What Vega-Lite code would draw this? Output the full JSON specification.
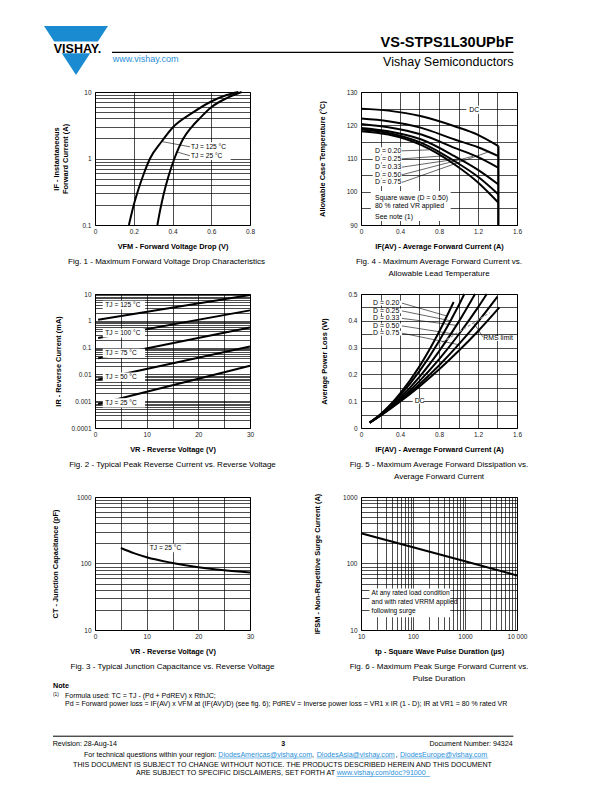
{
  "$schema": "https://vega.github.io/schema/vega-lite/v6.json",
  "padding": 0,
  "background": "white",
  "bounds": "flush",
  "columns": 4,
  "spacing": {"row": 69, "column": 0},
  "config": {
    "font": "Liberation Sans",
    "view": {"stroke": "black", "strokeWidth": 1},
    "axis": {"grid": true, "gridColor": "black", "gridOpacity": 1, "gridWidth": 0.7, "ticks": false, "domain": false, "labelFont": "Liberation Sans", "labelFontSize": 6.5, "labelColor": "#222222", "labelPadding": 3, "labelOverlap": false, "labelBound": false, "labelFlush": false, "titleFont": "Liberation Sans", "titleFontSize": 7.4, "titleFontWeight": "bold", "titleColor": "black", "titlePadding": 8},
    "axisY": {"labelPadding": 4},
    "title": {"orient": "bottom", "font": "Liberation Sans", "fontSize": 8, "fontWeight": "normal", "color": "black", "anchor": "middle", "frame": "group", "offset": 8, "lineHeight": 12},
    "text": {"font": "Liberation Sans", "fontSize": 6.5, "color": "black"}
  },
  "concat": [
    {
      "width": 95, "height": 23,
      "view": {"stroke": null},
      "encoding": {
        "x": {"field": "x", "type": "quantitative", "scale": {"domain": [0, 95], "nice": false, "zero": false}, "axis": null},
        "y": {"field": "y", "type": "quantitative", "scale": {"domain": [0, 23], "nice": false, "zero": false, "reverse": true}, "axis": null}
      },
      "layer": [
        {"data": {"values": [{"x": 76, "y": 50.5}]}, "mark": {"type": "point", "shape": "M-1,-0.766L1,-0.766L0,0.766Z", "size": 4096, "filled": true, "color": "#1b8bd1", "opacity": 1, "strokeWidth": 0}},
        {"data": {"values": [{"x": 38, "x2": 114, "y": 41.5, "y2": 53.3}]}, "mark": {"type": "rect", "fill": "white"}, "encoding": {"x2": {"field": "x2"}, "y2": {"field": "y2"}}},
        {"data": {"values": [{"x": 77.5, "y": 52.5, "t": "VISHAY."}]}, "mark": {"type": "text", "fontSize": 12.5, "fontWeight": "bold", "align": "center", "baseline": "alphabetic"}, "encoding": {"text": {"field": "t"}}},
        {"data": {"values": [{"x": 112, "x2": 513.5, "y": 52.3}]}, "mark": {"type": "rule", "color": "black", "strokeWidth": 1.2}, "encoding": {"x2": {"field": "x2"}}},
        {"data": {"values": [{"x": 513.5, "y": 46.5, "t": "VS-STPS1L30UPbF"}]}, "mark": {"type": "text", "fontSize": 14.5, "fontWeight": "bold", "align": "right", "baseline": "alphabetic"}, "encoding": {"text": {"field": "t"}}},
        {"data": {"values": [{"x": 513.5, "y": 66, "t": "Vishay Semiconductors"}]}, "mark": {"type": "text", "fontSize": 12.5, "align": "right", "baseline": "alphabetic"}, "encoding": {"text": {"field": "t"}}},
        {"data": {"values": [{"x": 112.7, "y": 61.5, "t": "www.vishay.com"}]}, "mark": {"type": "text", "fontSize": 9, "align": "left", "baseline": "alphabetic", "color": "#2a8fd8"}, "encoding": {"text": {"field": "t"}}}
      ]
    },
    {"width": 155, "height": 1, "view": {"stroke": null}, "data": {"values": [{}]}, "mark": {"type": "point", "size": 0, "opacity": 0}},
    {"width": 111, "height": 1, "view": {"stroke": null}, "data": {"values": [{}]}, "mark": {"type": "point", "size": 0, "opacity": 0}},
    {"width": 156, "height": 1, "view": {"stroke": null}, "data": {"values": [{}]}, "mark": {"type": "point", "size": 0, "opacity": 0}},

    {"width": 95, "height": 1, "view": {"stroke": null}, "data": {"values": [{}]}, "mark": {"type": "point", "size": 0, "opacity": 0}},
    {
      "width": 155, "height": 133,
      "title": {"text": "Fig. 1 - Maximum Forward Voltage Drop Characteristics", "dx": -6},
      "encoding": {
        "x": {"field": "x", "type": "quantitative", "scale": {"domain": [0, 0.8], "nice": false, "zero": false}, "axis": {"title": "VFM - Forward Voltage Drop (V)", "values": [0, 0.2, 0.4, 0.6, 0.8], "format": "~g"}},
        "y": {"field": "y", "type": "quantitative", "scale": {"type": "log", "domain": [0.1, 10], "nice": false}, "axis": {"title": ["IF - Instantaneous", "Forward Current (A)"], "titlePadding": 12, "values": [0.1, 0.2, 0.3, 0.4, 0.5, 0.6, 0.7, 0.8, 0.9, 1, 2, 3, 4, 5, 6, 7, 8, 9, 10], "labelExpr": "indexof([0.1, 1, 10], datum.value) >= 0 ? format(datum.value, '~g') : ''"}}
      },
      "layer": [
        {"data": {"values": [
          {"s": "125", "x": 0.175, "y": 0.1}, {"s": "125", "x": 0.198, "y": 0.19}, {"s": "125", "x": 0.225, "y": 0.35}, {"s": "125", "x": 0.25, "y": 0.57}, {"s": "125", "x": 0.284, "y": 1.0}, {"s": "125", "x": 0.344, "y": 1.8}, {"s": "125", "x": 0.4, "y": 2.9}, {"s": "125", "x": 0.5, "y": 4.8}, {"s": "125", "x": 0.6, "y": 7.2}, {"s": "125", "x": 0.68, "y": 9.0}, {"s": "125", "x": 0.74, "y": 10},
          {"s": "25", "x": 0.322, "y": 0.1}, {"s": "25", "x": 0.335, "y": 0.16}, {"s": "25", "x": 0.353, "y": 0.28}, {"s": "25", "x": 0.38, "y": 0.55}, {"s": "25", "x": 0.41, "y": 1.0}, {"s": "25", "x": 0.456, "y": 2.0}, {"s": "25", "x": 0.5, "y": 3.0}, {"s": "25", "x": 0.542, "y": 4.05}, {"s": "25", "x": 0.6, "y": 5.9}, {"s": "25", "x": 0.68, "y": 8.1}, {"s": "25", "x": 0.757, "y": 10}
        ]}, "mark": {"type": "line", "interpolate": "monotone", "color": "black", "strokeWidth": 2}, "encoding": {"detail": {"field": "s"}}},
        {"data": {"values": [{"x": 0.485, "x2": 0.7, "y": 0.95, "y2": 1.75}]}, "mark": {"type": "rect", "fill": "white"}, "encoding": {"x2": {"field": "x2"}, "y2": {"field": "y2"}}},
        {"data": {"values": [{"x": 0.344, "y": 1.8, "x2": 0.49, "y2": 1.5}, {"x": 0.425, "y": 1.25, "x2": 0.49, "y2": 1.1}]}, "mark": {"type": "rule", "color": "black", "strokeWidth": 0.6}, "encoding": {"x2": {"field": "x2"}, "y2": {"field": "y2"}}},
        {"data": {"values": [{"x": 0.495, "y": 1.5, "t": "TJ = 125 °C"}, {"x": 0.495, "y": 1.1, "t": "TJ = 25 °C"}]}, "mark": {"type": "text", "align": "left", "baseline": "middle", "fontSize": 6.6}, "encoding": {"text": {"field": "t"}}}
      ]
    },
    {"width": 111, "height": 1, "view": {"stroke": null}, "data": {"values": [{}]}, "mark": {"type": "point", "size": 0, "opacity": 0}},
    {
      "width": 156, "height": 133,
      "title": {"text": ["Fig. 4 - Maximum Average Forward Current vs.", "Allowable Lead Temperature"]},
      "encoding": {
        "x": {"field": "x", "type": "quantitative", "scale": {"domain": [0, 1.6], "nice": false, "zero": false}, "axis": {"title": "IF(AV) - Average Forward Current (A)", "values": [0, 0.2, 0.4, 0.6, 0.8, 1, 1.2, 1.4, 1.6], "labelExpr": "round(datum.value * 10) % 4 == 0 ? format(datum.value, '~g') : ''"}},
        "y": {"field": "y", "type": "quantitative", "scale": {"domain": [90, 130], "nice": false, "zero": false}, "axis": {"title": "Allowable Case Temperature (°C)", "titlePadding": 20, "values": [90, 95, 100, 105, 110, 115, 120, 125, 130], "labelExpr": "datum.value % 10 == 0 ? format(datum.value, '~g') : ''"}}
      },
      "layer": [
        {"data": {"values": [
          {"s": "DC", "x": 0, "y": 125.0}, {"s": "DC", "x": 0.28, "y": 124.4}, {"s": "DC", "x": 0.62, "y": 122.7}, {"s": "DC", "x": 0.96, "y": 119.7}, {"s": "DC", "x": 1.2, "y": 117.1}, {"s": "DC", "x": 1.41, "y": 113.7},
          {"s": "0.75", "x": 0, "y": 122.0}, {"s": "0.75", "x": 0.28, "y": 121.2}, {"s": "0.75", "x": 0.62, "y": 119.2}, {"s": "0.75", "x": 0.96, "y": 115.7}, {"s": "0.75", "x": 1.2, "y": 113.4}, {"s": "0.75", "x": 1.41, "y": 110.7},
          {"s": "0.50", "x": 0, "y": 120.4}, {"s": "0.50", "x": 0.28, "y": 119.4}, {"s": "0.50", "x": 0.62, "y": 117.2}, {"s": "0.50", "x": 0.96, "y": 113.2}, {"s": "0.50", "x": 1.2, "y": 110.4}, {"s": "0.50", "x": 1.41, "y": 107.2},
          {"s": "0.33", "x": 0, "y": 119.2}, {"s": "0.33", "x": 0.28, "y": 118.2}, {"s": "0.33", "x": 0.62, "y": 115.7}, {"s": "0.33", "x": 0.96, "y": 110.7}, {"s": "0.33", "x": 1.2, "y": 106.6}, {"s": "0.33", "x": 1.41, "y": 102.2},
          {"s": "0.25", "x": 0, "y": 118.7}, {"s": "0.25", "x": 0.28, "y": 117.7}, {"s": "0.25", "x": 0.62, "y": 114.7}, {"s": "0.25", "x": 0.96, "y": 109.2}, {"s": "0.25", "x": 1.2, "y": 104.5}, {"s": "0.25", "x": 1.41, "y": 99.2},
          {"s": "0.20", "x": 0, "y": 118.2}, {"s": "0.20", "x": 0.28, "y": 117.2}, {"s": "0.20", "x": 0.62, "y": 114.0}, {"s": "0.20", "x": 0.96, "y": 108.2}, {"s": "0.20", "x": 1.2, "y": 102.8}, {"s": "0.20", "x": 1.41, "y": 96.7}
        ]}, "mark": {"type": "line", "interpolate": "monotone", "color": "black", "strokeWidth": 2}, "encoding": {"detail": {"field": "s"}}},
        {"data": {"values": [{"x": 1.41, "y": 90, "y2": 113.7}]}, "mark": {"type": "rule", "color": "black", "strokeWidth": 2}, "encoding": {"y2": {"field": "y2"}}},
        {"data": {"values": [
          {"x": 1.08, "x2": 1.22, "y": 123.4, "y2": 125.9},
          {"x": 0.12, "x2": 0.42, "y": 111.2, "y2": 113.4},
          {"x": 0.12, "x2": 0.42, "y": 108.8, "y2": 111.0},
          {"x": 0.12, "x2": 0.42, "y": 106.3, "y2": 108.5},
          {"x": 0.12, "x2": 0.42, "y": 104.0, "y2": 106.2},
          {"x": 0.12, "x2": 0.42, "y": 101.7, "y2": 103.9},
          {"x": 0.1, "x2": 0.92, "y": 91.2, "y2": 100.2}
        ]}, "mark": {"type": "rect", "fill": "white"}, "encoding": {"x2": {"field": "x2"}, "y2": {"field": "y2"}}},
        {"data": {"values": [
          {"x": 0.42, "y": 112.3, "x2": 0.7, "y2": 112.6},
          {"x": 0.42, "y": 109.9, "x2": 0.86, "y2": 110.8},
          {"x": 0.42, "y": 107.4, "x2": 1.0, "y2": 109.9},
          {"x": 0.42, "y": 105.1, "x2": 1.15, "y2": 110.7},
          {"x": 0.42, "y": 102.8, "x2": 1.3, "y2": 111.9}
        ]}, "mark": {"type": "rule", "color": "black", "strokeWidth": 0.6}, "encoding": {"x2": {"field": "x2"}, "y2": {"field": "y2"}}},
        {"data": {"values": [
          {"x": 1.11, "y": 124.6, "t": "DC"},
          {"x": 0.144, "y": 112.3, "t": "D = 0.20"},
          {"x": 0.144, "y": 109.9, "t": "D = 0.25"},
          {"x": 0.144, "y": 107.4, "t": "D = 0.33"},
          {"x": 0.144, "y": 105.1, "t": "D = 0.50"},
          {"x": 0.144, "y": 102.8, "t": "D = 0.75"},
          {"x": 0.144, "y": 98.0, "t": "Square wave (D = 0.50)"},
          {"x": 0.144, "y": 95.8, "t": "80 % rated VR applied"},
          {"x": 0.144, "y": 92.5, "t": "See note (1)"}
        ]}, "mark": {"type": "text", "align": "left", "baseline": "middle", "fontSize": 6.9}, "encoding": {"text": {"field": "t"}}}
      ]
    },

    {"width": 95, "height": 1, "view": {"stroke": null}, "data": {"values": [{}]}, "mark": {"type": "point", "size": 0, "opacity": 0}},
    {
      "width": 155, "height": 134,
      "title": {"text": "Fig. 2 - Typical Peak Reverse Current vs. Reverse Voltage"},
      "encoding": {
        "x": {"field": "x", "type": "quantitative", "scale": {"domain": [0, 30], "nice": false, "zero": false}, "axis": {"title": "VR - Reverse Voltage (V)", "values": [0, 5, 10, 15, 20, 25, 30], "labelExpr": "datum.value % 10 == 0 ? format(datum.value, '~g') : ''"}},
        "y": {"field": "y", "type": "quantitative", "scale": {"type": "log", "domain": [0.0001, 10], "nice": false}, "axis": {"title": "IR - Reverse Current (mA)", "titlePadding": 9, "values": [0.0001, 0.0002, 0.0003, 0.0004, 0.0005, 0.0006, 0.0007, 0.0008, 0.0009, 0.001, 0.002, 0.003, 0.004, 0.005, 0.006, 0.007, 0.008, 0.009, 0.01, 0.02, 0.03, 0.04, 0.05, 0.06, 0.07, 0.08, 0.09, 0.1, 0.2, 0.3, 0.4, 0.5, 0.6, 0.7, 0.8, 0.9, 1, 2, 3, 4, 5, 6, 7, 8, 9, 10], "labelExpr": "indexof([0.0001, 0.001, 0.01, 0.1, 1, 10], datum.value) >= 0 ? format(datum.value, '~g') : ''"}}
      },
      "layer": [
        {"data": {"values": [
          {"s": "125", "x": 0.6, "y": 1.1}, {"s": "125", "x": 30, "y": 9.2},
          {"s": "100", "x": 0.6, "y": 0.23}, {"s": "100", "x": 30, "y": 2.45},
          {"s": "75", "x": 0.6, "y": 0.04}, {"s": "75", "x": 30, "y": 0.56},
          {"s": "50", "x": 0.6, "y": 0.0064}, {"s": "50", "x": 30, "y": 0.11},
          {"s": "25", "x": 0.6, "y": 0.00078}, {"s": "25", "x": 30, "y": 0.021}
        ]}, "mark": {"type": "line", "color": "black", "strokeWidth": 2}, "encoding": {"detail": {"field": "s"}}},
        {"data": {"values": [
          {"x": 1.5, "x2": 9.7, "y": 2.66, "y2": 5.6},
          {"x": 1.5, "x2": 9.7, "y": 0.237, "y2": 0.51},
          {"x": 1.5, "x2": 9.7, "y": 0.0418, "y2": 0.0911},
          {"x": 1.5, "x2": 9.7, "y": 0.0055, "y2": 0.0119},
          {"x": 1.5, "x2": 9.7, "y": 0.00058, "y2": 0.00129}
        ]}, "mark": {"type": "rect", "fill": "white"}, "encoding": {"x2": {"field": "x2"}, "y2": {"field": "y2"}}},
        {"data": {"values": [
          {"x": 2.0, "y": 3.86, "t": "TJ = 125 °C"},
          {"x": 2.0, "y": 0.35, "t": "TJ = 100 °C"},
          {"x": 2.0, "y": 0.062, "t": "TJ = 75 °C"},
          {"x": 2.0, "y": 0.0081, "t": "TJ = 50 °C"},
          {"x": 2.0, "y": 0.00087, "t": "TJ = 25 °C"}
        ]}, "mark": {"type": "text", "align": "left", "baseline": "middle", "fontSize": 6.6}, "encoding": {"text": {"field": "t"}}}
      ]
    },
    {"width": 111, "height": 1, "view": {"stroke": null}, "data": {"values": [{}]}, "mark": {"type": "point", "size": 0, "opacity": 0}},
    {
      "width": 156, "height": 134,
      "title": {"text": ["Fig. 5 - Maximum Average Forward Dissipation vs.", "Average Forward Current"]},
      "encoding": {
        "x": {"field": "x", "type": "quantitative", "scale": {"domain": [0, 1.6], "nice": false, "zero": false}, "axis": {"title": "IF(AV) - Average Forward Current (A)", "values": [0, 0.2, 0.4, 0.6, 0.8, 1, 1.2, 1.4, 1.6], "labelExpr": "round(datum.value * 10) % 4 == 0 ? format(datum.value, '~g') : ''"}},
        "y": {"field": "y", "type": "quantitative", "scale": {"domain": [0, 0.5], "nice": false, "zero": false}, "axis": {"title": "Average Power Loss (W)", "titlePadding": 19, "values": [0, 0.05, 0.1, 0.15, 0.2, 0.25, 0.3, 0.35, 0.4, 0.45, 0.5], "labelExpr": "round(datum.value * 100) % 10 == 0 ? format(datum.value, '~g') : ''"}}
      },
      "layer": [
        {"data": {"values": [
          {"s": "DC", "x": 0.09, "y": 0.02}, {"s": "DC", "x": 0.2, "y": 0.046}, {"s": "DC", "x": 0.4, "y": 0.098}, {"s": "DC", "x": 0.6, "y": 0.155}, {"s": "DC", "x": 0.8, "y": 0.218}, {"s": "DC", "x": 1.0, "y": 0.287}, {"s": "DC", "x": 1.2, "y": 0.361}, {"s": "DC", "x": 1.42, "y": 0.45},
          {"s": "0.75", "x": 0.09, "y": 0.02}, {"s": "0.75", "x": 0.2, "y": 0.047}, {"s": "0.75", "x": 0.4, "y": 0.101}, {"s": "0.75", "x": 0.6, "y": 0.163}, {"s": "0.75", "x": 0.8, "y": 0.233}, {"s": "0.75", "x": 1.0, "y": 0.311}, {"s": "0.75", "x": 1.2, "y": 0.396}, {"s": "0.75", "x": 1.4, "y": 0.49},
          {"s": "0.50", "x": 0.09, "y": 0.02}, {"s": "0.50", "x": 0.2, "y": 0.0475}, {"s": "0.50", "x": 0.4, "y": 0.106}, {"s": "0.50", "x": 0.6, "y": 0.175}, {"s": "0.50", "x": 0.8, "y": 0.256}, {"s": "0.50", "x": 1.0, "y": 0.348}, {"s": "0.50", "x": 1.2, "y": 0.45}, {"s": "0.50", "x": 1.29, "y": 0.5},
          {"s": "0.33", "x": 0.09, "y": 0.02}, {"s": "0.33", "x": 0.2, "y": 0.0486}, {"s": "0.33", "x": 0.4, "y": 0.112}, {"s": "0.33", "x": 0.6, "y": 0.191}, {"s": "0.33", "x": 0.8, "y": 0.286}, {"s": "0.33", "x": 1.0, "y": 0.395}, {"s": "0.33", "x": 1.17, "y": 0.5},
          {"s": "0.25", "x": 0.09, "y": 0.02}, {"s": "0.25", "x": 0.2, "y": 0.05}, {"s": "0.25", "x": 0.4, "y": 0.121}, {"s": "0.25", "x": 0.6, "y": 0.212}, {"s": "0.25", "x": 0.8, "y": 0.324}, {"s": "0.25", "x": 1.0, "y": 0.456}, {"s": "0.25", "x": 1.06, "y": 0.5},
          {"s": "0.20", "x": 0.09, "y": 0.02}, {"s": "0.20", "x": 0.2, "y": 0.051}, {"s": "0.20", "x": 0.4, "y": 0.128}, {"s": "0.20", "x": 0.6, "y": 0.23}, {"s": "0.20", "x": 0.8, "y": 0.358}, {"s": "0.20", "x": 0.95, "y": 0.47}
        ]}, "mark": {"type": "line", "interpolate": "monotone", "color": "black", "strokeWidth": 2}, "encoding": {"detail": {"field": "s"}}},
        {"data": {"values": [{"x": 0.79, "y": 0.31, "x2": 1.32, "y2": 0.43}]}, "mark": {"type": "rule", "color": "#999999", "strokeWidth": 1.2, "strokeDash": [3, 2]}, "encoding": {"x2": {"field": "x2"}, "y2": {"field": "y2"}}},
        {"data": {"values": [
          {"x": 0.12, "x2": 0.42, "y": 0.457, "y2": 0.475},
          {"x": 0.12, "x2": 0.42, "y": 0.428, "y2": 0.446},
          {"x": 0.12, "x2": 0.42, "y": 0.4, "y2": 0.418},
          {"x": 0.12, "x2": 0.42, "y": 0.372, "y2": 0.39},
          {"x": 0.12, "x2": 0.42, "y": 0.345, "y2": 0.363},
          {"x": 1.24, "x2": 1.48, "y": 0.325, "y2": 0.343},
          {"x": 0.53, "x2": 0.64, "y": 0.091, "y2": 0.109}
        ]}, "mark": {"type": "rect", "fill": "white"}, "encoding": {"x2": {"field": "x2"}, "y2": {"field": "y2"}}},
        {"data": {"values": [
          {"x": 0.42, "y": 0.466, "x2": 0.88, "y2": 0.418},
          {"x": 0.42, "y": 0.437, "x2": 0.92, "y2": 0.4},
          {"x": 0.42, "y": 0.409, "x2": 0.98, "y2": 0.383},
          {"x": 0.42, "y": 0.381, "x2": 1.0, "y2": 0.348},
          {"x": 0.42, "y": 0.354, "x2": 1.0, "y2": 0.311},
          {"x": 1.25, "y": 0.34, "x2": 1.16, "y2": 0.39}
        ]}, "mark": {"type": "rule", "color": "black", "strokeWidth": 0.6}, "encoding": {"x2": {"field": "x2"}, "y2": {"field": "y2"}}},
        {"data": {"values": [
          {"x": 0.123, "y": 0.466, "t": "D = 0.20"},
          {"x": 0.123, "y": 0.437, "t": "D = 0.25"},
          {"x": 0.123, "y": 0.409, "t": "D = 0.33"},
          {"x": 0.123, "y": 0.381, "t": "D = 0.50"},
          {"x": 0.123, "y": 0.354, "t": "D = 0.75"},
          {"x": 1.255, "y": 0.334, "t": "RMS limit"},
          {"x": 0.55, "y": 0.1, "t": "DC"}
        ]}, "mark": {"type": "text", "align": "left", "baseline": "middle", "fontSize": 6.9}, "encoding": {"text": {"field": "t"}}}
      ]
    },

    {"width": 95, "height": 1, "view": {"stroke": null}, "data": {"values": [{}]}, "mark": {"type": "point", "size": 0, "opacity": 0}},
    {
      "width": 155, "height": 133,
      "title": {"text": "Fig. 3 - Typical Junction Capacitance vs. Reverse Voltage"},
      "encoding": {
        "x": {"field": "x", "type": "quantitative", "scale": {"domain": [0, 30], "nice": false, "zero": false}, "axis": {"title": "VR - Reverse Voltage (V)", "values": [0, 5, 10, 15, 20, 25, 30], "labelExpr": "datum.value % 10 == 0 ? format(datum.value, '~g') : ''"}},
        "y": {"field": "y", "type": "quantitative", "scale": {"type": "log", "domain": [10, 1000], "nice": false}, "axis": {"title": "CT - Junction Capacitance (pF)", "titlePadding": 17, "values": [10, 20, 30, 40, 50, 60, 70, 80, 90, 100, 200, 300, 400, 500, 600, 700, 800, 900, 1000], "labelExpr": "indexof([10, 100, 1000], datum.value) >= 0 ? format(datum.value, '~g') : ''"}}
      },
      "layer": [
        {"data": {"values": [
          {"x": 5, "y": 171}, {"x": 7.5, "y": 143}, {"x": 10, "y": 124}, {"x": 15, "y": 102}, {"x": 20, "y": 88}, {"x": 25, "y": 79}, {"x": 30, "y": 73}
        ]}, "mark": {"type": "line", "interpolate": "monotone", "color": "black", "strokeWidth": 2}},
        {"data": {"values": [{"x": 10.2, "x2": 17.6, "y": 147, "y2": 198}]}, "mark": {"type": "rect", "fill": "white"}, "encoding": {"x2": {"field": "x2"}, "y2": {"field": "y2"}}},
        {"data": {"values": [{"x": 10.6, "y": 171, "t": "TJ = 25 °C"}]}, "mark": {"type": "text", "align": "left", "baseline": "middle", "fontSize": 6.6}, "encoding": {"text": {"field": "t"}}}
      ]
    },
    {"width": 111, "height": 1, "view": {"stroke": null}, "data": {"values": [{}]}, "mark": {"type": "point", "size": 0, "opacity": 0}},
    {
      "width": 156, "height": 133,
      "title": {"text": ["Fig. 6 - Maximum Peak Surge Forward Current vs.", "Pulse Duration"]},
      "encoding": {
        "x": {"field": "x", "type": "quantitative", "scale": {"type": "log", "domain": [10, 10000], "nice": false}, "axis": {"title": "tp - Square Wave Pulse Duration (µs)", "values": [10, 20, 30, 40, 50, 60, 70, 80, 90, 100, 200, 300, 400, 500, 600, 700, 800, 900, 1000, 2000, 3000, 4000, 5000, 6000, 7000, 8000, 9000, 10000], "labelExpr": "datum.value == 10000 ? '10 000' : indexof([10, 100, 1000], datum.value) >= 0 ? format(datum.value, '~g') : ''"}},
        "y": {"field": "y", "type": "quantitative", "scale": {"type": "log", "domain": [10, 1000], "nice": false}, "axis": {"title": "IFSM - Non-Repetitive Surge Current (A)", "titlePadding": 21, "values": [10, 20, 30, 40, 50, 60, 70, 80, 90, 100, 200, 300, 400, 500, 600, 700, 800, 900, 1000], "labelExpr": "indexof([10, 100, 1000], datum.value) >= 0 ? format(datum.value, '~g') : ''"}}
      },
      "layer": [
        {"data": {"values": [{"x": 10, "y": 285}, {"x": 100, "y": 175}, {"x": 1000, "y": 108}, {"x": 10000, "y": 66}]}, "mark": {"type": "line", "color": "black", "strokeWidth": 2}},
        {"data": {"values": [{"x": 14.5, "x2": 520, "y": 15.5, "y2": 42}]}, "mark": {"type": "rect", "fill": "white"}, "encoding": {"x2": {"field": "x2"}, "y2": {"field": "y2"}}},
        {"data": {"values": [
          {"x": 16, "y": 36, "t": "At any rated load condition"},
          {"x": 16, "y": 26.8, "t": "and with rated VRRM applied"},
          {"x": 16, "y": 19.4, "t": "following surge"}
        ]}, "mark": {"type": "text", "align": "left", "baseline": "middle", "fontSize": 6.6}, "encoding": {"text": {"field": "t"}}}
      ]
    },

    {
      "width": 95, "height": 93,
      "view": {"stroke": null},
      "encoding": {
        "x": {"field": "x", "type": "quantitative", "scale": {"domain": [0, 95], "nice": false, "zero": false}, "axis": null},
        "y": {"field": "y", "type": "quantitative", "scale": {"domain": [699, 792], "nice": false, "zero": false, "reverse": true}, "axis": null}
      },
      "layer": [
        {"data": {"values": [{"x": 53, "y": 736.2, "x2": 513.3}]}, "mark": {"type": "rule", "color": "black", "strokeWidth": 1}, "encoding": {"x2": {"field": "x2"}}},
        {"data": {"values": [{"x": 218.3, "y": 758, "x2": 311.7}, {"x": 316.7, "y": 758, "x2": 395}, {"x": 400, "y": 758, "x2": 488.3}, {"x": 336.7, "y": 776.5, "x2": 430}]}, "mark": {"type": "rule", "color": "#2a8fd8", "strokeWidth": 0.6}, "encoding": {"x2": {"field": "x2"}}},
        {"data": {"values": [{"x": 53, "y": 687.5, "t": "Note"}]}, "mark": {"type": "text", "fontSize": 7.2, "fontWeight": "bold", "align": "left", "baseline": "alphabetic"}, "encoding": {"text": {"field": "t"}}},
        {"data": {"values": [{"x": 283.3, "y": 746, "t": "3"}]}, "mark": {"type": "text", "fontSize": 7, "fontWeight": "bold", "align": "center", "baseline": "alphabetic"}, "encoding": {"text": {"field": "t"}}},
        {"data": {"values": [{"x": 53, "y": 695.5, "t": "(1)"}]}, "mark": {"type": "text", "fontSize": 4.8, "align": "left", "baseline": "alphabetic"}, "encoding": {"text": {"field": "t"}}},
        {"data": {"values": [
          {"x": 65, "y": 698, "t": "Formula used: TC = TJ - (Pd + PdREV) x RthJC;"},
          {"x": 65, "y": 705.5, "t": "Pd = Forward power loss = IF(AV) x VFM at (IF(AV)/D) (see fig. 6); PdREV = Inverse power loss = VR1 x IR (1 - D); IR at VR1 = 80 % rated VR"}
        ]}, "mark": {"type": "text", "fontSize": 7.0, "align": "left", "baseline": "alphabetic"}, "encoding": {"text": {"field": "t"}}},
        {"data": {"values": [
          {"x": 52.7, "y": 746, "t": "Revision: 28-Aug-14"},
          {"x": 312, "y": 756.5, "t": ","},
          {"x": 395.5, "y": 756.5, "t": ","}
        ]}, "mark": {"type": "text", "fontSize": 7.1, "align": "left", "baseline": "alphabetic"}, "encoding": {"text": {"field": "t"}}},
        {"data": {"values": [
          {"x": 512.7, "y": 746, "t": "Document Number: 94324"},
          {"x": 216.5, "y": 756.5, "t": "For technical questions within your region:"},
          {"x": 335, "y": 775, "t": "ARE SUBJECT TO SPECIFIC DISCLAIMERS, SET FORTH AT"}
        ]}, "mark": {"type": "text", "fontSize": 7.1, "align": "right", "baseline": "alphabetic"}, "encoding": {"text": {"field": "t"}}},
        {"data": {"values": [
          {"x": 282.5, "y": 766.7, "t": "THIS DOCUMENT IS SUBJECT TO CHANGE WITHOUT NOTICE. THE PRODUCTS DESCRIBED HEREIN AND THIS DOCUMENT"}
        ]}, "mark": {"type": "text", "fontSize": 7.1, "align": "center", "baseline": "alphabetic"}, "encoding": {"text": {"field": "t"}}},
        {"data": {"values": [
          {"x": 218.3, "y": 756.5, "t": "DiodesAmericas@vishay.com"},
          {"x": 316.7, "y": 756.5, "t": "DiodesAsia@vishay.com"},
          {"x": 400, "y": 756.5, "t": "DiodesEurope@vishay.com"},
          {"x": 336.7, "y": 775, "t": "www.vishay.com/doc?91000"}
        ]}, "mark": {"type": "text", "fontSize": 7.1, "align": "left", "baseline": "alphabetic", "color": "#2a8fd8"}, "encoding": {"text": {"field": "t"}}}
      ]
    }
  ]
}
